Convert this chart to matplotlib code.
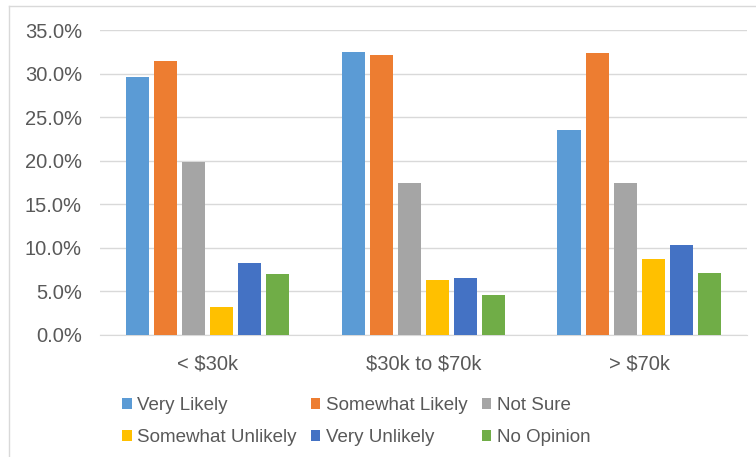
import numpy as np
import matplotlib
matplotlib.use("Agg")
from matplotlib import pyplot as plt
from matplotlib.lines import Line2D

plt.rcParams['font.family'] = ['Liberation Sans', 'DejaVu Sans']
plt.rcParams['text.parse_math'] = False

# datos
categorias = ["< $30k", "$30k to $70k", "> $70k"]
series = ["Very Likely", "Somewhat Likely", "Not Sure",
          "Somewhat Unlikely", "Very Unlikely", "No Opinion"]
very_likely = [29.6, 32.5, 23.5]
somewhat_likely = [31.5, 32.1, 32.4]
not_sure = [19.9, 17.5, 17.5]
somewhat_unlikely = [3.2, 6.3, 8.7]
very_unlikely = [8.3, 6.5, 10.3]
no_opinion = [7.0, 4.6, 7.1]
valores = [very_likely, somewhat_likely, not_sure,
           somewhat_unlikely, very_unlikely, no_opinion]
colores = ["#5B9BD5", "#ED7D31", "#A5A5A5", "#FFC000", "#4472C4", "#70AD47"]

fig = plt.figure(figsize=(7.56, 4.57), dpi=100)
ax = fig.add_axes([0.1323, 0.267, 0.8557, 0.667])

x = np.arange(len(categorias))
paso = 0.13
ancho = 0.107
barras = []
for i, (nombre, v, c) in enumerate(zip(series, valores, colores)):
    b = ax.bar(x + (i - 2.5) * paso, v, width=ancho, color=c, label=nombre, zorder=3)
    barras.append(b)

ax.set_xlim(-0.5, 2.5)
ax.set_ylim(0, 35)
ax.set_yticks(np.arange(0, 35.1, 5))
ax.set_yticklabels(["{:.1f}%".format(t) for t in np.arange(0, 35.1, 5)])
ax.set_xticks(x)
ax.set_xticklabels(categorias)
ax.tick_params(axis='both', length=0, labelsize=14.5, colors="#595959")
ax.tick_params(axis='y', pad=13)
ax.tick_params(axis='x', pad=14)
ax.grid(axis='y', color="#D9D9D9", linewidth=1, zorder=0)
for s in ['top', 'right', 'left']:
    ax.spines[s].set_visible(False)
ax.spines['bottom'].set_color("#D9D9D9")

# borde del grafico
fig.add_artist(Line2D([9 / 756, 9 / 756], [0, 1 - 6 / 457], color="#D9D9D9", lw=1))
fig.add_artist(Line2D([9 / 756, 1], [1 - 6 / 457, 1 - 6 / 457], color="#D9D9D9", lw=1))

# orden por filas
orden = [0, 3, 1, 4, 2, 5]
fig.legend([barras[i] for i in orden], [series[i] for i in orden],
           loc='upper left', bbox_to_anchor=(113 / 756, 1 - 388 / 457), ncol=3,
           frameon=False, fontsize=13.5, handlelength=0.5, handleheight=0.5,
           handletextpad=0.3, columnspacing=0.75, labelspacing=0.8,
           labelcolor="#595959", borderpad=0)

fig.savefig("out.png", dpi=100)
